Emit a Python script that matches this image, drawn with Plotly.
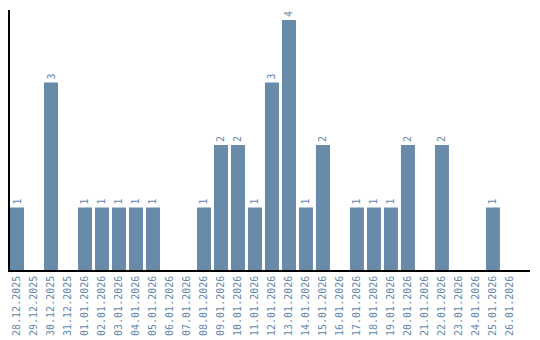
import plotly.graph_objects as go

dates = ["28.12.2025", "29.12.2025", "30.12.2025", "31.12.2025", "01.01.2026", "02.01.2026",
         "03.01.2026", "04.01.2026", "05.01.2026", "06.01.2026", "07.01.2026", "08.01.2026",
         "09.01.2026", "10.01.2026", "11.01.2026", "12.01.2026", "13.01.2026", "14.01.2026",
         "15.01.2026", "16.01.2026", "17.01.2026", "18.01.2026", "19.01.2026", "20.01.2026",
         "21.01.2026", "22.01.2026", "23.01.2026", "24.01.2026", "25.01.2026", "26.01.2026"]
counts = [1, 0, 3, 0, 1, 1, 1, 1, 1, 0, 0, 1, 2, 2, 1, 3, 4, 1, 2, 0, 1, 1, 1, 2, 0, 2, 0, 0, 1, 0]

bar_color = "#688baa"
text_color = "#6587ab"
font_family = "DejaVu Sans Mono"

fig = go.Figure(go.Bar(
    x=list(range(len(dates))),
    y=counts,
    marker=dict(color=bar_color, line=dict(width=0)),
    text=[str(c) if c else "" for c in counts],
    textposition="outside",
    textangle=-90,
    textfont=dict(family=font_family, size=10, color=text_color),
    cliponaxis=False,
))

fig.update_layout(
    width=540, height=340,
    margin=dict(l=10, r=10, t=10, b=70),
    plot_bgcolor="white", paper_bgcolor="white",
    bargap=0.176,
    showlegend=False,
    xaxis=dict(
        tickmode="array", tickvals=list(range(len(dates))), ticktext=dates,
        tickangle=-90, range=[-0.412, 30.18], automargin=False,
        tickfont=dict(family=font_family, size=10, color=text_color),
        showline=True, linecolor="black", linewidth=1.5,
        showgrid=False, zeroline=False, ticks="",
    ),
    yaxis=dict(
        range=[0, 4.16], showline=True, linecolor="black", linewidth=1.5,
        showgrid=False, zeroline=False, showticklabels=False, ticks="",
        automargin=False,
    ),
)

fig.write_html("out.html")
